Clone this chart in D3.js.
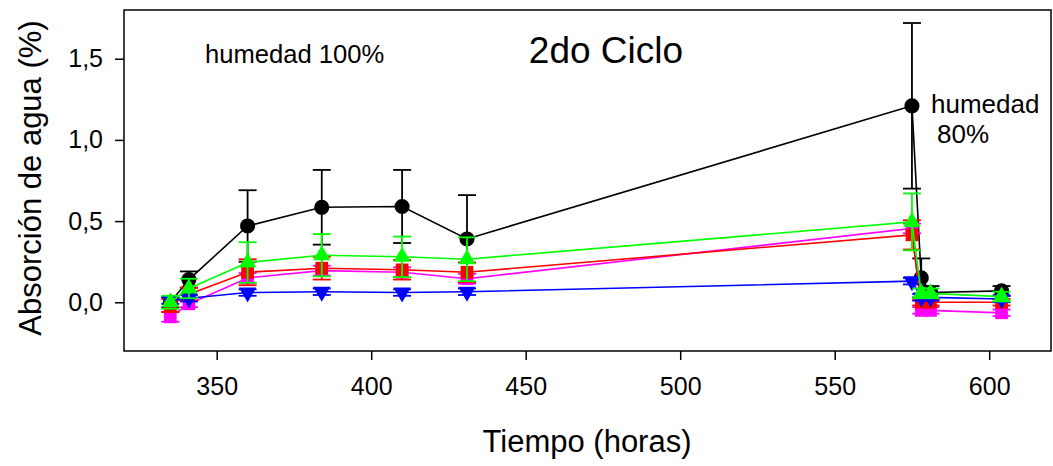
<!DOCTYPE html>
<html lang="es">
<head>
<meta charset="UTF-8">
<title>2do Ciclo</title>
<script src="https://d3js.org/d3.v7.min.js"></script>
<style>
  body { margin: 0; background: #fff; }
  svg { font-family: "Liberation Sans", Arial, sans-serif; }
  .axis path, .axis line { stroke: #000; stroke-width: 1.5px; }
  .axis text { font-size: 25px; fill: #000; }
</style>
</head>
<body>
<svg id="chart" width="1053" height="466"></svg>
<script>
// tiempo (horas)
var tiempo = [335, 341, 360, 384, 410, 431, 575, 578, 581, 604];

// absorcion de agua (%) y desviacion, una por serie
var negro      = [0.0, 0.14, 0.47, 0.585, 0.59, 0.39, 1.21, 0.15, 0.06, 0.07];
var negroErr   = [0.03, 0.05, 0.22, 0.23, 0.225, 0.27, 0.51, 0.12, 0.04, 0.03];
var magenta    = [-0.09, -0.01, 0.15, 0.195, 0.185, 0.145, 0.455, -0.05, -0.05, -0.065];
var magentaErr = [0.03, 0.02, 0.03, 0.03, 0.03, 0.03, 0.03, 0.02, 0.02, 0.02];
var rojo       = [-0.02, 0.05, 0.185, 0.21, 0.2, 0.185, 0.415, 0.0, 0.0, 0.0];
var rojoErr    = [0.04, 0.04, 0.08, 0.07, 0.06, 0.06, 0.09, 0.02, 0.02, 0.02];
var azul       = [0.01, 0.025, 0.06, 0.065, 0.06, 0.065, 0.13, 0.03, 0.03, 0.02];
var azulErr    = [0.02, 0.02, 0.02, 0.02, 0.02, 0.02, 0.02, 0.02, 0.02, 0.02];
var verde      = [0.0, 0.085, 0.245, 0.29, 0.28, 0.265, 0.495, 0.055, 0.055, 0.035];
var verdeErr   = [0.04, 0.06, 0.125, 0.13, 0.125, 0.135, 0.175, 0.03, 0.03, 0.03];

var xTicks = [350, 400, 450, 500, 550, 600];
var yTicks = [0, 0.5, 1.0, 1.5];

var series = [
  {vals: negro,   err: negroErr,   color: "#000000", sym: "circle"},
  {vals: magenta, err: magentaErr, color: "#ff00ff", sym: "square"},
  {vals: rojo,    err: rojoErr,    color: "#ff0000", sym: "square"},
  {vals: azul,    err: azulErr,    color: "#0000ff", sym: "down"},
  {vals: verde,   err: verdeErr,   color: "#00ff00", sym: "up"}
];

var svg = d3.select("#chart");
// bordes del area del grafico
var mLeft = 124, mRight = 1051, mTop = 10, mBottom = 351;

var x = d3.scaleLinear().domain([320, 620]).range([mLeft, mRight]);
var y = d3.scaleLinear().domain([-0.3, 1.8]).range([mBottom, mTop]);

// marco
svg.append("rect")
  .attr("x", mLeft).attr("y", mTop)
  .attr("width", mRight - mLeft).attr("height", mBottom - mTop)
  .attr("fill", "none").attr("stroke", "#000").attr("stroke-width", 1.5);

svg.append("g").attr("class", "axis")
  .attr("transform", "translate(0," + mBottom + ")")
  .call(d3.axisBottom(x).tickValues(xTicks).tickSize(9).tickPadding(17).tickSizeOuter(0))
  .call(g => g.select(".domain").remove());

svg.append("g").attr("class", "axis")
  .attr("transform", "translate(" + mLeft + ",0)")
  .call(d3.axisLeft(y).tickValues(yTicks).tickSize(9).tickPadding(12)
    .tickFormat(d => d3.format(".1f")(d).replace(".", ",")))
  .call(g => g.select(".domain").remove());

var line = d3.line().x((d, i) => x(tiempo[i])).y(d => y(d));

series.forEach(function(s) {
  var g = svg.append("g");
  var pts = s.vals.map((v, i) => ({t: tiempo[i], v: v, e: s.err[i]}));

  // barras de error
  var eb = g.selectAll(".eb").data(pts).enter().append("g")
    .attr("stroke", s.color).attr("stroke-width", 1.8);
  eb.append("line")
    .attr("x1", d => x(d.t)).attr("x2", d => x(d.t))
    .attr("y1", d => y(d.v - d.e)).attr("y2", d => y(d.v + d.e));
  eb.append("line")
    .attr("x1", d => x(d.t) - 9).attr("x2", d => x(d.t) + 9)
    .attr("y1", d => y(d.v + d.e)).attr("y2", d => y(d.v + d.e));
  eb.append("line")
    .attr("x1", d => x(d.t) - 9).attr("x2", d => x(d.t) + 9)
    .attr("y1", d => y(d.v - d.e)).attr("y2", d => y(d.v - d.e));

  g.append("path").datum(s.vals)
    .attr("d", line).attr("fill", "none")
    .attr("stroke", s.color).attr("stroke-width", 1.6);

  var sym;
  if (s.sym == "circle") sym = d3.symbol(d3.symbolCircle, 180);
  else if (s.sym == "square") sym = d3.symbol(d3.symbolSquare, 160);
  else sym = d3.symbol(d3.symbolTriangle, 130);

  g.selectAll(".m").data(pts).enter().append("path")
    .attr("d", sym)
    .attr("transform", d => "translate(" + x(d.t) + "," + y(d.v) + ")" + (s.sym == "down" ? " rotate(180)" : ""))
    .attr("fill", s.color);
});

// textos
svg.append("text").attr("x", 205).attr("y", 63)
  .attr("font-size", 25.6).text("humedad 100%");
svg.append("text").attr("x", 606).attr("y", 63).attr("text-anchor", "middle")
  .attr("font-size", 37).text("2do Ciclo");
svg.append("text").attr("x", 931).attr("y", 113)
  .attr("font-size", 26).text("humedad");
svg.append("text").attr("x", 937).attr("y", 143)
  .attr("font-size", 26).text("80%");

svg.append("text").attr("x", 587).attr("y", 452).attr("text-anchor", "middle")
  .attr("font-size", 31).text("Tiempo (horas)");
svg.append("text")
  .attr("transform", "translate(41,178) rotate(-90)")
  .attr("text-anchor", "middle")
  .attr("font-size", 31).text("Absorción de agua (%)");
</script>
</body>
</html>
